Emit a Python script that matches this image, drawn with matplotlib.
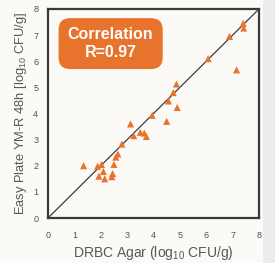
import matplotlib
matplotlib.use("Agg")
import matplotlib.pyplot as plt
from matplotlib.patches import FancyBboxPatch, Rectangle

# values
drbc = [1.35, 1.88, 2.03, 1.93, 2.10, 2.15, 2.42, 2.45, 2.50, 2.57, 2.65, 2.80,
        3.13, 3.25, 3.50, 3.65, 3.73, 3.95, 4.50, 4.57, 4.75, 4.87, 4.90,
        6.07, 6.88, 7.15, 7.40, 7.42]
easy_plate = [2.00, 1.98, 2.05, 1.60, 1.78, 1.50, 1.58, 1.70, 2.05, 2.33, 2.45, 2.83,
              3.60, 3.15, 3.28, 3.25, 3.12, 3.93, 3.70, 4.48, 4.80, 5.13, 4.23,
              6.10, 6.95, 5.67, 7.45, 7.27]
ticks = [0, 1, 2, 3, 4, 5, 6, 7, 8]
corr_text = "Correlation\nR=0.97"

orange = "#e8732c"
bg = "#fcfaf6"

plt.rcParams["font.family"] = ["Liberation Sans", "DejaVu Sans"]
plt.rcParams["mathtext.fontset"] = "custom"
plt.rcParams["mathtext.rm"] = "Liberation Sans"
plt.rcParams["mathtext.it"] = "Liberation Sans"

fig = plt.figure(figsize=(2.75, 2.63), dpi=100, facecolor=bg)
# light grey strip at the right edge
fig.patches.append(Rectangle((263 / 275, 0), 12 / 275, 1, transform=fig.transFigure,
                             facecolor="#ececec", edgecolor="none", zorder=0))

ax = fig.add_axes([48 / 275, 1 - 218 / 263, 211 / 275, 209 / 263])
ax.set_facecolor(bg)
ax.set_xlim(0, 8)
ax.set_ylim(0, 8)

ax.plot([0, 8], [0, 8], color="#3c3c3c", lw=0.9, zorder=2)
ax.scatter(drbc, easy_plate, marker="^", s=26, color=orange, edgecolors="none", zorder=3)

for s in ax.spines.values():
    s.set_color("#3a3a3a")
    s.set_linewidth(1.6)

ax.set_xticks(ticks)
ax.set_yticks(ticks)
ax.tick_params(length=0, labelsize=6.5, colors="#505050")
ax.tick_params(axis="x", pad=9)
ax.tick_params(axis="y", pad=7)

ax.set_xlabel(r"DRBC Agar (log$_{10}$ CFU/g)", fontsize=10, color="#585858", labelpad=3)
ax.set_ylabel(r"Easy Plate YM-R 48h [log$_{10}$ CFU/g]", fontsize=9.3, color="#585858", labelpad=3)

# orange rounded box with correlation
box = FancyBboxPatch((0.40, 5.70), 3.95, 1.95, boxstyle="round,pad=0,rounding_size=0.45",
                     facecolor=orange, edgecolor="none", zorder=4)
ax.add_patch(box)
ax.text(2.37, 6.67, corr_text, ha="center", va="center", fontsize=11.5,
        color="white", fontweight="bold", linespacing=1.25, zorder=5)

fig.savefig("out.png", dpi=100, facecolor=bg)
